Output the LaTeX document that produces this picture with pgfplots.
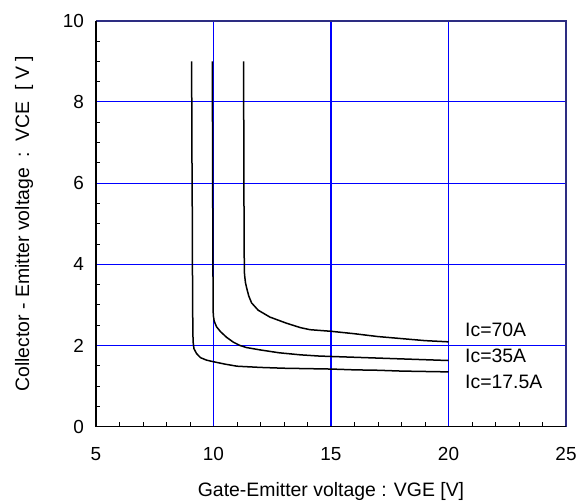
\documentclass[border=0pt]{standalone}
\usepackage{fontspec}
\setmainfont{Liberation Sans}
\usepackage{pgfplots}
\pgfplotsset{compat=1.18}
\definecolor{gridblue}{RGB}{0,0,255}
\definecolor{framenavy}{RGB}{45,45,130}
\pgfplotsset{curve/.style={black, line width=1.5bp, line join=round, mark=none}}

\begin{document}
\begin{tikzpicture}
\useasboundingbox (-96bp,-75.3bp) rectangle (480bp,426.7bp);
\begin{axis}[
    scale only axis,
    width=470bp, height=406bp,
    xmin=5, xmax=25, ymin=0, ymax=10,
    xtick={5,10,...,25}, ytick={0,2,...,10},
    minor x tick num=4, minor y tick num=3,
    tick align=inside, tick pos=left,
    major tick length=0pt, minor tick length=4.5bp,
    minor tick style={black, line width=0.8bp},
    grid=major,
    major grid style={gridblue, line width=1.1bp},
    axis line style={draw=none},
    /pgf/number format/assume math mode=true,
    ticklabel style={font=\fontsize{19}{22}\selectfont},
    xticklabel style={yshift=-17bp},
    yticklabel style={xshift=-8.5bp},
    xlabel={Gate-Emitter voltage : VGE [V]},
    ylabel={Collector - Emitter voltage\ \ :\ \ VCE\ \ [ V ]},
    every axis x label/.style={at={(axis description cs:0.5,0)}, anchor=center,
        yshift=-65bp, font=\fontsize{19.5}{23}\selectfont},
    every axis y label/.style={at={(axis description cs:0,0.5)}, anchor=center,
        rotate=90, yshift=72bp, font=\fontsize{19.5}{23}\selectfont},
]
% Ic = 17.5 A
\addplot[curve] coordinates {
(9.07,9.0) (9.08,7) (9.10,5) (9.11,3) (9.13,2.1) (9.17,1.92) (9.28,1.80)
(9.45,1.70) (9.7,1.64) (10.0,1.60) (10.5,1.54) (11.0,1.49) (12.0,1.46)
(13.0,1.44) (14.0,1.43) (15.0,1.42) (16,1.40) (17,1.39) (18,1.37) (19,1.36) (20,1.35)
};
% Ic = 35 A
\addplot[curve] coordinates {
(9.95,9) (9.96,7) (9.97,5) (9.98,3.5) (9.99,2.75) (10.03,2.6) (10.13,2.46)
(10.3,2.34) (10.56,2.2) (10.85,2.08) (11.13,2.0) (11.4,1.95) (12.0,1.89)
(12.8,1.82) (13.7,1.77) (14.5,1.74) (15,1.73) (16,1.71) (17,1.69) (18,1.67) (19,1.65) (20,1.63)
};
% Ic = 70 A
\addplot[curve] coordinates {
(11.28,9) (11.29,7) (11.30,5) (11.31,4) (11.32,3.75) (11.36,3.55) (11.41,3.42)
(11.5,3.22) (11.62,3.05) (11.9,2.87) (12.4,2.70) (13.1,2.55) (13.7,2.44)
(14.1,2.39) (15,2.35) (16,2.29) (17,2.22) (18,2.17) (19,2.12) (20,2.09)
};
\node[anchor=west, inner sep=0pt, font=\fontsize{19.5}{23}\selectfont] at (axis cs:20.7,2.39) {Ic=70A};
\node[anchor=west, inner sep=0pt, font=\fontsize{19.5}{23}\selectfont] at (axis cs:20.7,1.74) {Ic=35A};
\node[anchor=west, inner sep=0pt, font=\fontsize{19.5}{23}\selectfont] at (axis cs:20.7,1.11) {Ic=17.5A};
\end{axis}
\draw[framenavy, line width=2bp] (current axis.north west) -- (current axis.north east) -- (current axis.south east);
\draw[black, line width=1.5bp] (current axis.north west) -- (current axis.south west) -- (current axis.south east);
\end{tikzpicture}
\end{document}
